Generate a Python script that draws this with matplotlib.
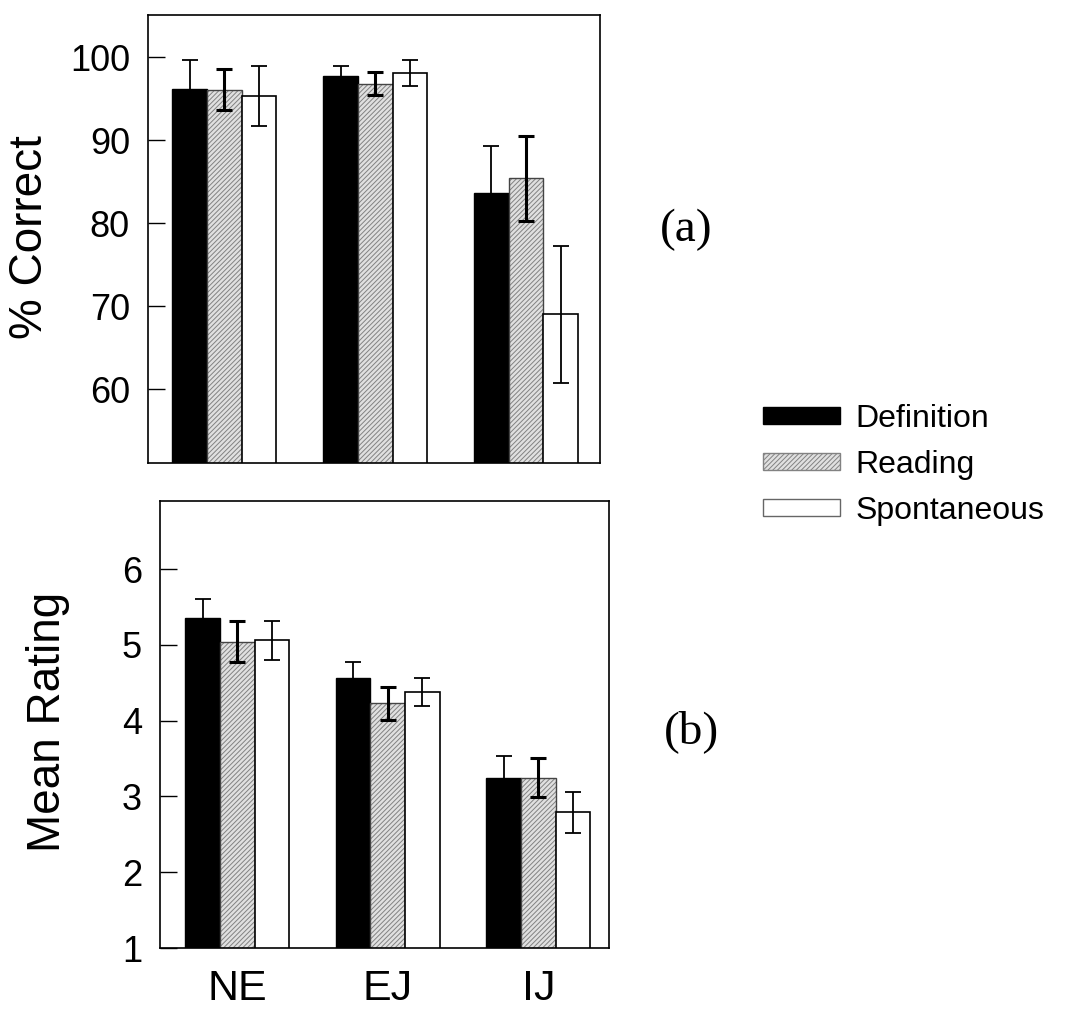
import numpy as np
import matplotlib
matplotlib.use('Agg')
import matplotlib.pyplot as plt
from matplotlib.patches import Patch

plt.rcParams['font.family'] = ['Liberation Sans', 'DejaVu Sans']
plt.rcParams['hatch.linewidth'] = 0.7

groups = ['NE', 'EJ', 'IJ']
conditions = ['Definition', 'Reading', 'Spontaneous']

# (a) percent correct, with error bars
correct_def = [96.2, 97.7, 83.7]
correct_read = [96.1, 96.8, 85.4]
correct_spon = [95.3, 98.1, 69.0]
correct_def_err = [3.5, 1.3, 5.6]
correct_read_err = [2.5, 1.4, 5.1]
correct_spon_err = [3.6, 1.6, 8.3]

# (b) mean rating, with error bars
rating_def = [5.36, 4.57, 3.25]
rating_read = [5.04, 4.23, 3.25]
rating_spon = [5.06, 4.38, 2.79]
rating_def_err = [0.25, 0.21, 0.28]
rating_read_err = [0.27, 0.22, 0.26]
rating_spon_err = [0.26, 0.18, 0.27]

W = 0.23
HATCH_FACE = '#e0e0e0'
HATCH_EDGE = '#828282'


def draw_panel(ax, vals, errs):
    x = np.arange(len(groups))
    offs = [-W, 0, W]
    for i, (v, e) in enumerate(zip(vals, errs)):
        xs = x + offs[i]
        if i == 0:
            ax.bar(xs, v, W, color='black', edgecolor='black', lw=1)
            ax.errorbar(xs, v, yerr=e, fmt='none', ecolor='black',
                        elinewidth=1.3, capsize=5.5, capthick=1.3)
        elif i == 1:
            ax.bar(xs, v, W, color=HATCH_FACE, edgecolor=HATCH_EDGE,
                   hatch='///////', lw=0)
            ax.bar(xs, v, W, fill=False, edgecolor='#444444', lw=1)
            ax.errorbar(xs, v, yerr=e, fmt='none', ecolor='black',
                        elinewidth=2.2, capsize=5.5, capthick=2.2)
        else:
            ax.bar(xs, v, W, color='white', edgecolor='black', lw=1.2)
            ax.errorbar(xs, v, yerr=e, fmt='none', ecolor='black',
                        elinewidth=1.3, capsize=5.5, capthick=1.3)
    for s in ax.spines.values():
        s.set_linewidth(1.2)
    ax.tick_params(axis='y', direction='in', length=12, width=1,
                   labelsize=26, pad=13)
    ax.tick_params(axis='x', length=0)


fig = plt.figure(figsize=(10.79, 10.15), dpi=100)
W_PX, H_PX = 1079, 1015


def frac_box(left, top, right, bottom):
    return [left / W_PX, 1 - bottom / H_PX, (right - left) / W_PX, (bottom - top) / H_PX]


ax1 = fig.add_axes(frac_box(148, 15, 600, 463))
draw_panel(ax1, [correct_def, correct_read, correct_spon],
           [correct_def_err, correct_read_err, correct_spon_err])
ax1.set_ylim(51.1, 105.1)
ax1.set_yticks([60, 70, 80, 90, 100])
ax1.set_xlim(-0.507, 2.49)
ax1.set_xticks([])

ax2 = fig.add_axes(frac_box(160, 501, 609, 948))
draw_panel(ax2, [rating_def, rating_read, rating_spon],
           [rating_def_err, rating_read_err, rating_spon_err])
ax2.set_ylim(1, 6.9)
ax2.set_yticks([1, 2, 3, 4, 5, 6])
ax2.set_xlim(-0.513, 2.47)
ax2.set_xticks(np.arange(len(groups)))
ax2.set_xticklabels(groups, fontsize=31)
ax2.tick_params(axis='x', pad=15)

fig.text(42 / W_PX, 1 - 237 / H_PX, '% Correct', rotation=90, fontsize=33,
         ha='center', va='baseline', rotation_mode='anchor')
fig.text(60 / W_PX, 1 - 722 / H_PX, 'Mean Rating', rotation=90, fontsize=33,
         ha='center', va='baseline', rotation_mode='anchor')

fig.text(686 / W_PX, 1 - 230 / H_PX, '(a)', fontsize=34, family='Liberation Serif',
         ha='center', va='center')
fig.text(691 / W_PX, 1 - 732 / H_PX, '(b)', fontsize=34, family='Liberation Serif',
         ha='center', va='center')

handles = [
    Patch(facecolor='black', edgecolor='black'),
    Patch(facecolor=HATCH_FACE, edgecolor=HATCH_EDGE, hatch='///////'),
    Patch(facecolor='white', edgecolor='#666666'),
]
fig.legend(handles, conditions, loc='upper left',
           bbox_to_anchor=(763 / W_PX, 1 - 404 / H_PX), frameon=False,
           fontsize=23, handlelength=2.4, handleheight=0.42,
           handletextpad=0.5, labelspacing=0.5, borderpad=0, borderaxespad=0)

fig.savefig('out.png', dpi=100)
